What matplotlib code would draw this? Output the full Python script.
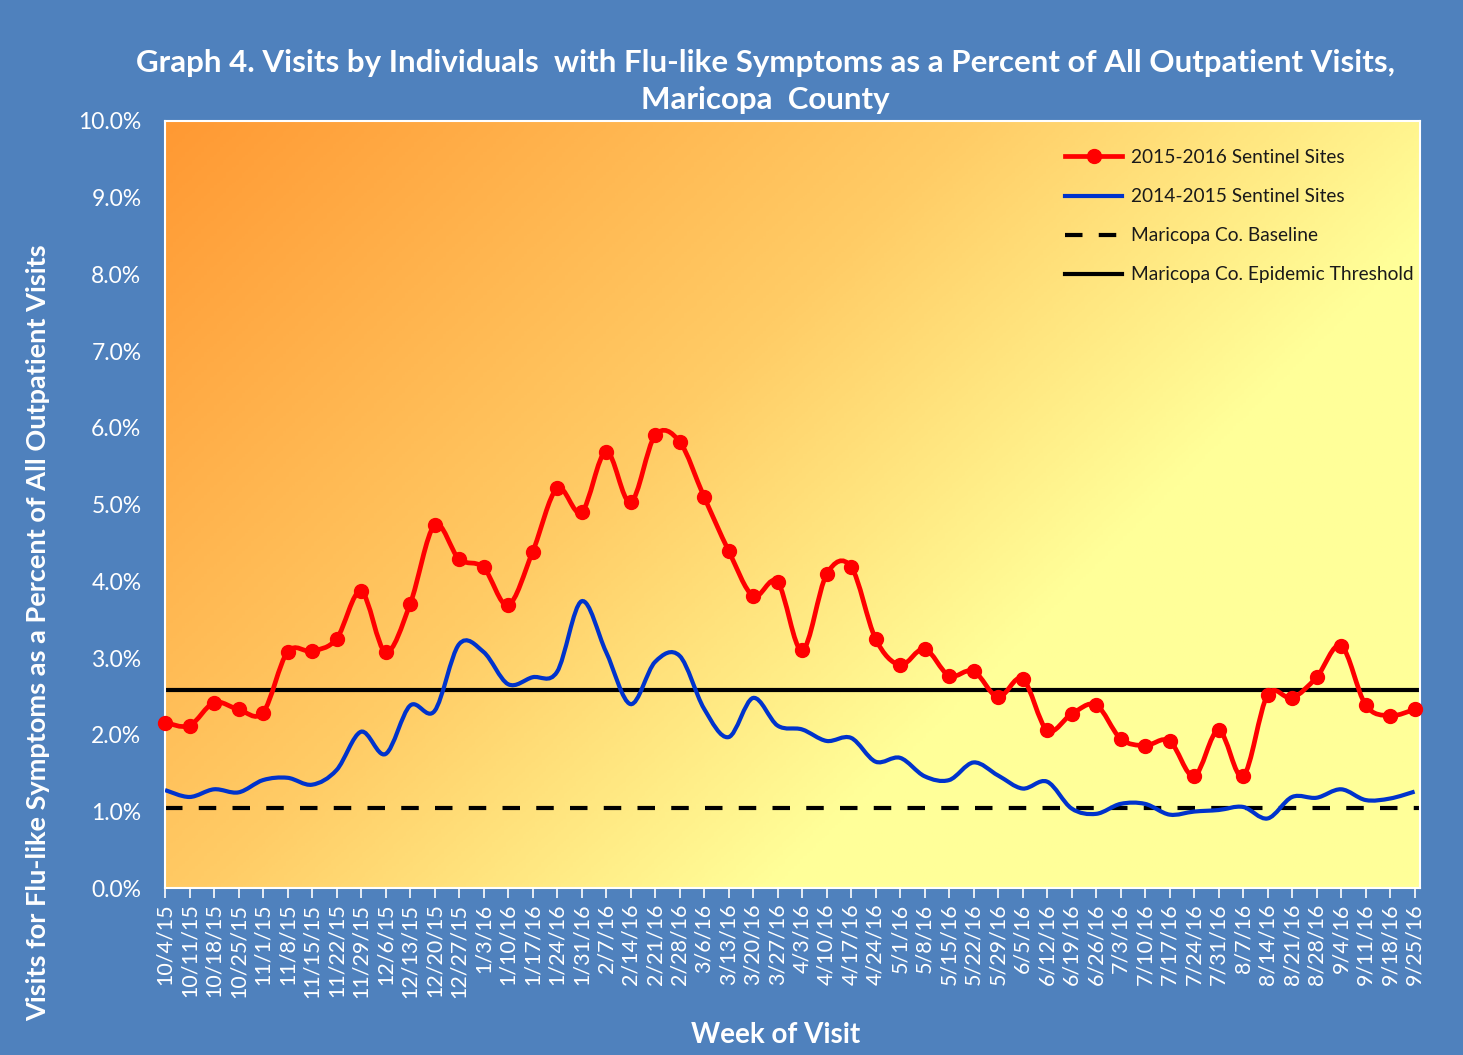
"""Graph 4 - ILI visits as percent of outpatient visits, Maricopa County."""

import numpy as np
import matplotlib

matplotlib.use("Agg")
import matplotlib.pyplot as plt
from matplotlib.colors import LinearSegmentedColormap
from matplotlib.lines import Line2D
from matplotlib.patches import PathPatch
from matplotlib.path import Path


WEEKS = [
    "10/4/15", "10/11/15", "10/18/15", "10/25/15", "11/1/15", "11/8/15",
    "11/15/15", "11/22/15", "11/29/15", "12/6/15", "12/13/15", "12/20/15",
    "12/27/15", "1/3/16", "1/10/16", "1/17/16", "1/24/16", "1/31/16",
    "2/7/16", "2/14/16", "2/21/16", "2/28/16", "3/6/16", "3/13/16",
    "3/20/16", "3/27/16", "4/3/16", "4/10/16", "4/17/16", "4/24/16",
    "5/1/16", "5/8/16", "5/15/16", "5/22/16", "5/29/16", "6/5/16",
    "6/12/16", "6/19/16", "6/26/16", "7/3/16", "7/10/16", "7/17/16",
    "7/24/16", "7/31/16", "8/7/16", "8/14/16", "8/21/16", "8/28/16",
    "9/4/16", "9/11/16", "9/18/16", "9/25/16",
]

SEASON_2015_16 = [
    2.16, 2.12, 2.42, 2.33, 2.29, 3.08, 3.09, 3.25, 3.87, 3.08,
    3.70, 4.73, 4.29, 4.18, 3.69, 4.38, 5.21, 4.90, 5.69, 5.03,
    5.90, 5.82, 5.10, 4.40, 3.81, 3.99, 3.10, 4.09, 4.19, 3.25,
    2.91, 3.12, 2.77, 2.83, 2.49, 2.73, 2.06, 2.27, 2.39, 1.95,
    1.86, 1.92, 1.46, 2.06, 1.46, 2.52, 2.48, 2.75, 3.16, 2.39,
    2.25, 2.33,
]

SEASON_2014_15 = [
    1.28, 1.19, 1.29, 1.25, 1.41, 1.44, 1.35, 1.54, 2.04, 1.75,
    2.38, 2.31, 3.18, 3.08, 2.66, 2.75, 2.82, 3.74, 3.08, 2.40,
    2.95, 3.03, 2.34, 1.97, 2.48, 2.12, 2.07, 1.92, 1.96, 1.65,
    1.70, 1.46, 1.41, 1.64, 1.47, 1.30, 1.39, 1.04, 0.97, 1.10,
    1.10, 0.96, 1.00, 1.02, 1.06, 0.91, 1.19, 1.18, 1.29, 1.15,
    1.17, 1.26,
]

BASELINE = 1.04
THRESHOLD = 2.59

BG_BLUE = "#4F81BD"
FONT = ["Lato", "DejaVu Sans"]


def smooth_path(xs, ys):
    # Excel-style smoothed line: cubic Bezier through every point
    pts = np.column_stack([xs, ys]).astype(float)
    n = len(pts)
    verts = [pts[0]]
    codes = [Path.MOVETO]
    for i in range(n - 1):
        p0 = pts[i - 1] if i > 0 else pts[i]
        p1 = pts[i]
        p2 = pts[i + 1]
        p3 = pts[i + 2] if i + 2 < n else pts[i + 1]
        c1 = p1 + (p2 - p0) / 6.0
        c2 = p2 - (p3 - p1) / 6.0
        verts += [c1, c2, p2]
        codes += [Path.CURVE4] * 3
    return Path(verts, codes)


def main():
    plt.rcParams["font.family"] = FONT

    fig = plt.figure(figsize=(14.63, 10.55), dpi=100, facecolor=BG_BLUE)
    ax = fig.add_axes([0.1128, 0.158, 0.8578, 0.7275])

    x = np.arange(len(WEEKS))
    ax.set_xlim(0, len(WEEKS) - 1 + 0.22)
    ax.set_ylim(0, 10)

    # gradient plot area: orange top-left -> pale yellow bottom-right,
    # 45 degrees in pixel space
    cmap = LinearSegmentedColormap.from_list(
        "plotbg",
        [(0.0, "#FF9933"), (0.40, "#FFCC66"), (0.68, "#FFFF99"),
         (1.0, "#FFFF99")],
    )
    w_px, h_px = 1255.0, 768.0
    gx, gy = np.meshgrid(np.linspace(0, 1, 400), np.linspace(0, 1, 300))
    grad = (gx * w_px + gy * h_px) / (w_px + h_px)
    ax.imshow(
        grad, cmap=cmap, extent=(0, 1, 0, 1), transform=ax.transAxes,
        aspect="auto", zorder=0, vmin=0, vmax=1, origin="upper",
    )

    ax.axhline(BASELINE, color="black", lw=3.0, ls=(0, (4.2, 3.9)),
               dash_capstyle="butt", zorder=2)
    ax.axhline(THRESHOLD, color="black", lw=3.0, zorder=2)

    ax.add_patch(PathPatch(smooth_path(x, SEASON_2014_15), fill=False,
                           edgecolor="#0033CC", lw=3.0, zorder=3))
    ax.add_patch(PathPatch(smooth_path(x, SEASON_2015_16), fill=False,
                           edgecolor="#FF0000", lw=3.4, zorder=4))
    ax.plot(x, SEASON_2015_16, ls="none", marker="o", ms=10,
            color="#FF0000", zorder=5, clip_on=False)

    for side in ax.spines.values():
        side.set_color("white")
        side.set_linewidth(1.5)

    ax.set_yticks(np.arange(0, 10.01, 1))
    ax.set_yticklabels([f"{v:.1f}%" for v in np.arange(0, 10.01, 1)])
    ax.tick_params(axis="y", length=0, pad=17, labelsize=16.5,
                   labelcolor="white")
    ax.set_xticks(x)
    ax.set_xticklabels(WEEKS, rotation=90)
    ax.tick_params(axis="x", length=7, width=1.2, color="white",
                   labelsize=15.5, labelcolor="white", pad=4)

    fig.text(
        0.530, 0.019, "Week of Visit", ha="center", va="center",
        color="white", fontsize=20, fontweight="bold",
    )
    fig.text(
        0.026, 0.40,
        "Visits for Flu-like Symptoms as a Percent of All Outpatient Visits",
        rotation=90, ha="center", va="center", color="white",
        fontsize=19.5, fontweight="bold",
    )
    fig.text(
        0.523, 0.923,
        "Graph 4. Visits by Individuals  with Flu-like Symptoms as a "
        "Percent of All Outpatient Visits,\nMaricopa  County",
        ha="center", va="center", color="white", fontsize=22.5,
        fontweight="bold", linespacing=1.4,
    )

    handles = [
        Line2D([], [], color="#FF0000", lw=3.4, marker="o", ms=10),
        Line2D([], [], color="#0033CC", lw=3.0),
        Line2D([], [], color="black", lw=3.0, ls=(0, (4.2, 3.9)),
               dash_capstyle="butt"),
        Line2D([], [], color="black", lw=3.0),
    ]
    labels = [
        "2015-2016 Sentinel Sites",
        "2014-2015 Sentinel Sites",
        "Maricopa Co. Baseline",
        "Maricopa Co. Epidemic Threshold",
    ]
    ax.legend(handles, labels, loc="upper right", frameon=False,
              fontsize=13.8, handlelength=3.0, labelspacing=1.15,
              borderaxespad=0.2, bbox_to_anchor=(1.004, 0.978),
              handletextpad=0.45, labelcolor="#1a1a1a")

    fig.savefig("out.png", dpi=100, facecolor=BG_BLUE)
    plt.close(fig)


if __name__ == "__main__":
    main()
